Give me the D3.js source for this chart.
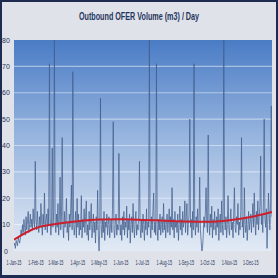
<!DOCTYPE html>
<html>
<head>
<meta charset="utf-8">
<script src="https://cdn.jsdelivr.net/npm/d3@7"></script>
<style>
  body { margin: 0; background: #dfe2e8; }
  svg { display: block; }
  text { font-family: "Liberation Sans Narrow", "Liberation Sans", sans-serif; fill: #1f3560; }
</style>
</head>
<body>
<svg id="chart" width="278" height="278"></svg>
<script>
// daily outbound volume, one array per month (2015)
var jan = [2, 3, 1, 4, 3, 2, 5, 4, 3, 5, 8, 6, 10, 7, 12, 9, 6, 13, 8, 11, 15, 7, 10, 14, 9, 12, 8, 16, 11, 9, 34];
var feb = [12, 8, 15, 10, 7, 13, 9, 18, 11, 6, 14, 10, 22, 8, 12, 14, 7, 16, 10, 71, 13, 6, 11, 39, 9, 15, 80, 11];
var mar = [7, 14, 9, 18, 6, 12, 28, 8, 13, 43, 10, 5, 15, 9, 12, 20, 7, 11, 4, 14, 9, 16, 25, 8, 68, 12, 6, 10, 15, 5, 20];
var apr = [9, 14, 6, 11, 8, 21, 5, 12, 9, 16, 7, 13, 19, 6, 10, 4, 15, 8, 12, 18, 5, 9, 14, 7, 11, 3, 13, 8, 23, 6];
var may = [0, 8, 58, 10, 5, 12, 7, 15, 4, 11, 9, 14, 6, 10, 13, 5, 9, 12, 7, 16, 49, 8, 5, 11, 14, 6, 10, 8, 37, 12, 6];
var jun = [10, 4, 13, 8, 15, 6, 11, 9, 17, 5, 12, 8, 14, 3, 10, 13, 7, 18, 9, 5, 12, 15, 6, 10, 8, 14, 34, 9, 5, 12];
var jul = [7, 14, 10, 4, 12, 8, 16, 6, 11, 9, 80, 10, 5, 13, 8, 15, 22, 7, 11, 6, 71, 9, 4, 12, 8, 14, 6, 10, 13, 7, 18];
var aug = [8, 12, 5, 10, 14, 7, 11, 16, 6, 13, 9, 24, 8, 12, 5, 15, 9, 11, 7, 14, 4, 10, 17, 8, 12, 6, 15, 9, 11, 19, 7];
var sep = [13, 18, 6, 10, 14, 50, 9, 12, 5, 15, 8, 71, 11, 6, 13, 9, 16, 7, 12, 28, 8, 4, 0, 1, 6, 13, 9, 15, 24, 10];
var oct = [7, 44, 11, 6, 14, 9, 17, 5, 12, 8, 15, 10, 6, 13, 9, 16, 4, 11, 14, 7, 19, 10, 6, 80, 12, 8, 13, 5, 10, 21, 9];
var nov = [6, 12, 16, 8, 11, 5, 14, 24, 9, 7, 13, 10, 18, 6, 11, 8, 15, 43, 9, 12, 5, 24, 10, 7, 13, 4, 9, 15, 8, 11];
var dec = [14, 7, 12, 18, 9, 22, 11, 6, 15, 10, 19, 8, 13, 17, 36, 10, 14, 7, 20, 50, 12, 9, 16, 1, 11, 22, 14, 8, 18, 55, 13];

// trend line (red), read at month starts
var trendDates = ["2015-01-01", "2015-02-01", "2015-03-01", "2015-04-01", "2015-05-01", "2015-06-01", "2015-07-01",
                  "2015-08-01", "2015-09-01", "2015-10-01", "2015-11-01", "2015-12-01", "2015-12-31"];
var trendValues = [4.3, 8.7, 10.2, 11.3, 11.9, 12.0, 11.8, 11.5, 11.2, 11.1, 11.7, 12.9, 14.8];

var yTicks = [0, 10, 20, 30, 40, 50, 60, 70, 80];

var volume = [].concat(jan, feb, mar, apr, may, jun, jul, aug, sep, oct, nov, dec);
var start = new Date(2015, 0, 1);
var daily = volume.map(function (v, i) { return { date: d3.timeDay.offset(start, i), value: v }; });
var trend = trendDates.map(function (d, i) { return { date: d3.timeParse("%Y-%m-%d")(d), value: trendValues[i] }; });

var W = 278, H = 278;
var svg = d3.select("#chart");

// page background
svg.append("rect").attr("width", W).attr("height", H).attr("fill", "#dfe2e8");

var x = d3.scaleTime().domain([start, new Date(2015, 11, 31)]).range([14, 272]);
var y = d3.scaleLinear().domain([0, 80]).range([251, 40]);

// plot area gradient
var defs = svg.append("defs");
var grad = defs.append("linearGradient").attr("id", "bg").attr("x1", 0).attr("y1", 0).attr("x2", 0).attr("y2", 1);
grad.append("stop").attr("offset", "0%").attr("stop-color", "#4a7cc5");
grad.append("stop").attr("offset", "45%").attr("stop-color", "#96b4de");
grad.append("stop").attr("offset", "100%").attr("stop-color", "#e2eaf5");
defs.append("clipPath").attr("id", "clip").append("rect")
    .attr("x", x.range()[0]).attr("y", y(80)).attr("width", x.range()[1] - x.range()[0]).attr("height", y(0) - y(80));

svg.append("rect")
    .attr("x", x.range()[0]).attr("y", y(80))
    .attr("width", x.range()[1] - x.range()[0]).attr("height", y(0) - y(80))
    .attr("fill", "url(#bg)");

// gridlines
svg.append("g").selectAll("line").data(yTicks.slice(1, -1)).enter().append("line")
    .attr("x1", x.range()[0]).attr("x2", x.range()[1])
    .attr("y1", function (d) { return y(d); }).attr("y2", function (d) { return y(d); })
    .attr("stroke", "#ffffff").attr("stroke-opacity", 0.45).attr("stroke-width", 1.2);

// y labels
svg.append("g").selectAll("text").data(yTicks).enter().append("text")
    .attr("x", 6).attr("y", function (d) { return y(d) + 2.5; })
    .attr("text-anchor", "middle").attr("font-size", 7)
    .text(function (d) { return d; });

// x labels, squeezed horizontally like the narrow original font
var months = d3.timeMonth.range(start, new Date(2015, 11, 2));
svg.append("g").selectAll("text").data(months).enter().append("text")
    .attr("transform", function (d) { return "translate(" + x(d) + ",265) scale(0.58,1)"; })
    .attr("text-anchor", "middle").attr("font-size", 6.5)
    .text(d3.timeFormat("%-d-%b-%y"));

var plot = svg.append("g").attr("clip-path", "url(#clip)");

var line = d3.line().x(function (d) { return x(d.date); }).y(function (d) { return y(d.value); });
plot.append("path").datum(daily)
    .attr("d", line)
    .attr("fill", "none").attr("stroke", "#44608f").attr("stroke-width", 0.75);

var trendLine = d3.line().curve(d3.curveMonotoneX)
    .x(function (d) { return x(d.date); }).y(function (d) { return y(d.value); });
plot.append("path").datum(trend)
    .attr("d", trendLine)
    .attr("fill", "none").attr("stroke", "#cc1f2b").attr("stroke-width", 2);

// title
svg.append("text").attr("transform", "translate(139,20) scale(0.72,1)")
    .attr("text-anchor", "middle").attr("font-size", 10).attr("font-weight", "bold")
    .text("Outbound OFER Volume (m3) / Day");

// outer frame
svg.append("rect").attr("x", 1).attr("y", 1).attr("width", W - 2).attr("height", H - 3)
    .attr("fill", "none").attr("stroke", "#1c2b4f").attr("stroke-width", 2);
svg.append("rect").attr("x", 0).attr("y", H - 3).attr("width", W).attr("height", 3).attr("fill", "#1c2b4f");
</script>
</body>
</html>
